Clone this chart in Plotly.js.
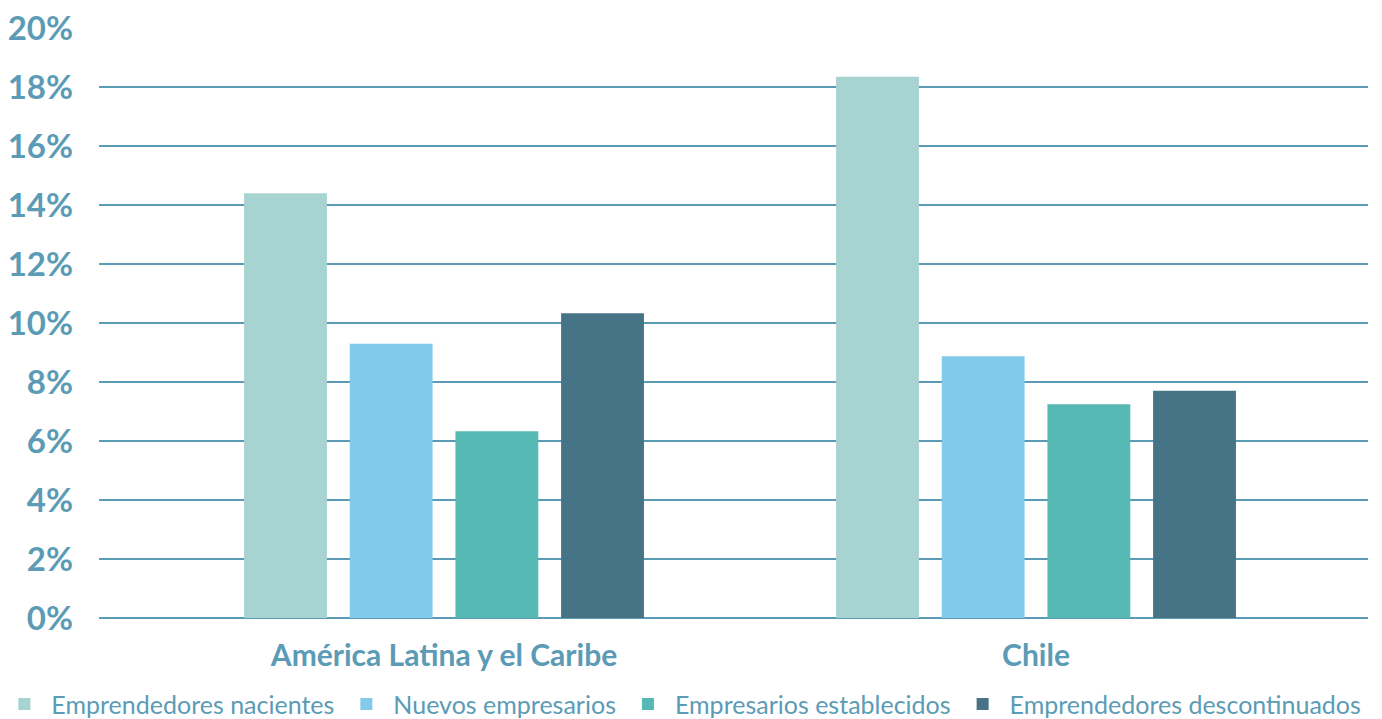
<!DOCTYPE html>
<html>
<head>
<meta charset="utf-8">
<script src="https://cdn.plot.ly/plotly-3.0.1.min.js"></script>
<style>html,body{margin:0;padding:0;background:#fff;}#chart{width:1382px;height:719px;}</style>
</head>
<body>
<div id="chart"></div>
<script>
const categories = ["América Latina y el Caribe", "Chile"];
const seriesNames = ["Emprendedores nacientes", "Nuevos empresarios", "Empresarios establecidos", "Emprendedores descontinuados"];
const nacientes = [0.144, 0.1835];
const nuevos = [0.093, 0.0887];
const establecidos = [0.0633, 0.0725];
const descontinuados = [0.1033, 0.077];
const colors = ["#a7d4d1", "#82caec", "#57b9b3", "#467385"];
const tickVals = [0, 0.02, 0.04, 0.06, 0.08, 0.10, 0.12, 0.14, 0.16, 0.18, 0.20];
const tickText = ["0%", "2%", "4%", "6%", "8%", "10%", "12%", "14%", "16%", "18%", "20%"];

const values = [nacientes, nuevos, establecidos, descontinuados];
const traces = values.map((v, i) => ({
  type: "bar",
  name: seriesNames[i],
  x: categories,
  y: v,
  marker: {color: colors[i]},
  hoverinfo: "none"
}));

const textColor = "#5b9bb5";
const layout = {
  width: 1382, height: 719,
  margin: {l: 99, r: 14, t: 28, b: 101, autoexpand: false},
  paper_bgcolor: "#ffffff", plot_bgcolor: "#ffffff",
  barmode: "group",
  bargap: 0.286,
  bargroupgap: 0.216,
  font: {family: "Lato, sans-serif", color: textColor},
  xaxis: {
    type: "category",
    range: [-0.5828, 1.5608],
    showgrid: false, zeroline: false, showline: false,
    ticks: "",
    ticklabelstandoff: 17,
    tickfont: {size: 30, family: "Lato, sans-serif", weight: "bold", color: textColor},
    automargin: false
  },
  yaxis: {
    range: [0, 0.2],
    tickvals: tickVals, ticktext: tickText,
    showgrid: true, gridcolor: "#5b9bb5", gridwidth: 1.5,
    zeroline: true, zerolinecolor: "#5b9bb5", zerolinewidth: 1.5,
    showline: false, ticks: "",
    ticklabelstandoff: 25,
    tickfont: {size: 33, family: "Lato, sans-serif", weight: "bold", color: textColor},
    automargin: false
  },
  showlegend: true,
  legend: {
    orientation: "h",
    x: -0.0801, xanchor: "left",
    y: -0.146, yanchor: "middle",
    itemwidth: 44,
    font: {size: 25, family: "Lato, sans-serif", color: textColor},
    traceorder: "normal",
    itemclick: false, itemdoubleclick: false
  }
};

Plotly.newPlot("chart", traces, layout, {displayModeBar: false, staticPlot: true});
</script>
</body>
</html>
